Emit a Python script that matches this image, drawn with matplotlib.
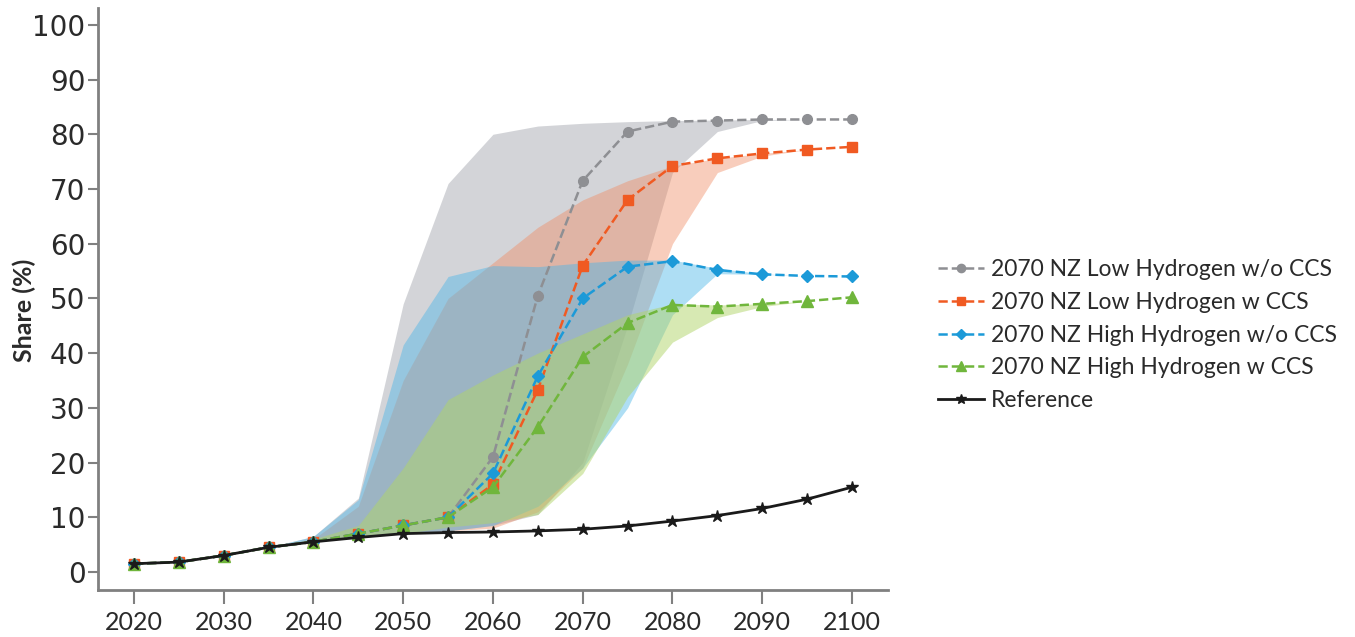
import numpy as np
import matplotlib
matplotlib.use("Agg")
import matplotlib.pyplot as plt

years = [2020, 2025, 2030, 2035, 2040, 2045, 2050, 2055, 2060, 2065, 2070,
         2075, 2080, 2085, 2090, 2095, 2100]

# scenario medians (markers) in percent
low_h2_no_ccs = [1.5, 1.8, 3.0, 4.5, 5.5, 7.0, 8.5, 10.0, 21.0, 50.5, 71.5,
                 80.5, 82.3, 82.5, 82.7, 82.7, 82.7]
low_h2_ccs = [1.5, 1.8, 3.0, 4.5, 5.5, 7.0, 8.5, 10.0, 16.0, 33.3, 56.0,
              68.0, 74.2, 75.6, 76.5, 77.2, 77.7]
high_h2_no_ccs = [1.5, 1.8, 3.0, 4.5, 5.5, 7.0, 8.5, 10.0, 18.0, 35.8, 50.0,
                  55.8, 56.8, 55.2, 54.4, 54.1, 54.0]
high_h2_ccs = [1.5, 1.8, 3.0, 4.5, 5.5, 7.0, 8.5, 10.0, 15.5, 26.5, 39.3,
               45.5, 48.8, 48.5, 49.0, 49.5, 50.2]
reference = [1.5, 1.8, 3.0, 4.5, 5.5, 6.3, 7.0, 7.2, 7.3, 7.5, 7.8,
             8.4, 9.3, 10.3, 11.6, 13.3, 15.5]

# scenario ranges (shaded bands)
low_h2_no_ccs_hi = [1.5, 1.8, 3.0, 4.5, 6.5, 13.5, 49.0, 71.0, 80.0, 81.5, 82.0,
                    82.3, 82.5, 82.6, 82.7, 82.7, 82.7]
low_h2_no_ccs_lo = [1.5, 1.8, 3.0, 4.5, 5.5, 6.5, 7.0, 7.5, 8.5, 10.5, 20.0,
                    45.0, 73.0, 80.5, 82.5, 82.7, 82.7]
low_h2_ccs_hi = [1.5, 1.8, 3.0, 4.5, 6.0, 12.0, 35.0, 50.0, 56.5, 63.0, 68.0,
                 71.5, 74.2, 75.6, 76.5, 77.2, 77.7]
low_h2_ccs_lo = [1.5, 1.8, 3.0, 4.5, 5.5, 6.5, 7.0, 7.5, 8.0, 11.0, 19.0,
                 38.0, 60.0, 73.0, 76.0, 77.2, 77.7]
high_h2_no_ccs_hi = [1.5, 1.8, 3.0, 4.5, 6.5, 13.2, 41.5, 54.0, 56.0, 55.8, 56.5,
                     57.0, 57.0, 55.5, 54.5, 54.1, 54.0]
high_h2_no_ccs_lo = [1.5, 1.8, 3.0, 4.5, 5.5, 6.5, 7.0, 7.5, 8.5, 12.0, 19.0,
                     30.0, 47.0, 54.5, 54.4, 54.1, 54.0]
high_h2_ccs_hi = [1.5, 1.8, 3.0, 4.5, 6.0, 8.5, 19.0, 31.5, 36.0, 40.0, 43.5,
                  47.0, 49.0, 48.8, 49.0, 49.5, 50.2]
high_h2_ccs_lo = [1.5, 1.8, 3.0, 4.5, 5.5, 6.5, 7.0, 8.2, 9.0, 10.5, 18.0,
                  32.0, 42.0, 46.5, 48.5, 49.5, 50.2]

labels = ["2070 NZ Low Hydrogen w/o CCS", "2070 NZ Low Hydrogen w CCS",
          "2070 NZ High Hydrogen w/o CCS", "2070 NZ High Hydrogen w CCS",
          "Reference"]

plt.rcParams['font.family'] = ['Lato', 'DejaVu Sans']

fig = plt.figure(figsize=(13.55, 6.37), dpi=100)
ax = fig.add_axes([0.0723, 0.0738, 0.583, 0.913])

# shaded ranges
ax.fill_between(years, low_h2_no_ccs_lo, low_h2_no_ccs_hi, color='#a8aab2', alpha=0.5, lw=0)
ax.fill_between(years, low_h2_ccs_lo, low_h2_ccs_hi, color='#f08a60', alpha=0.42, lw=0)
ax.fill_between(years, high_h2_no_ccs_lo, high_h2_no_ccs_hi, color='#4cb6e8', alpha=0.45, lw=0)
ax.fill_between(years, high_h2_ccs_lo, high_h2_ccs_hi, color='#b0d468', alpha=0.5, lw=0)

# scenario lines
ax.plot(years, low_h2_no_ccs, ls='--', color='#8e8f93', lw=1.8, marker='o', ms=7, label=labels[0])
ax.plot(years, low_h2_ccs, ls='--', color='#f05a22', lw=1.8, marker='s', ms=7, label=labels[1])
ax.plot(years, high_h2_no_ccs, ls='--', color='#1c9ad8', lw=1.8, marker='D', ms=6.5, label=labels[2])
ax.plot(years, high_h2_ccs, ls='--', color='#70b63c', lw=1.8, marker='^', ms=8, label=labels[3])
ax.plot(years, reference, ls='-', color='#1a1a1a', lw=2, marker='*', ms=9, label=labels[4])

ax.set_xlim(2016, 2104)
ax.set_ylim(-3.3, 103)
ax.set_xticks(range(2020, 2101, 10))
ax.set_yticks(range(0, 101, 10))

for side in ['top', 'right']:
    ax.spines[side].set_visible(False)
for side in ['left', 'bottom']:
    ax.spines[side].set_color('#808080')
    ax.spines[side].set_linewidth(2)

ax.tick_params(axis='y', colors='#808080', length=7, width=1.5, labelsize=20,
               labelcolor='#2a2a2a', pad=2)
ax.tick_params(axis='x', colors='#808080', length=10, width=1.5, labelsize=18,
               labelcolor='#2a2a2a', pad=5)
for lbl in ax.get_yticklabels():
    lbl.set_fontfamily('DejaVu Sans')

ax.set_ylabel('Share (%)', fontsize=18, fontweight='bold', color='#2a2a2a')
ax.yaxis.set_label_coords(-0.078, 0.48)

fig.legend(loc='center left', bbox_to_anchor=(0.684, 0.474), frameon=False,
           fontsize=16.5, handlelength=2.0, handletextpad=0.3, borderpad=0,
           labelspacing=0.52, labelcolor='#2a2a2a', markerscale=0.85)

fig.savefig('out.png', dpi=100)
